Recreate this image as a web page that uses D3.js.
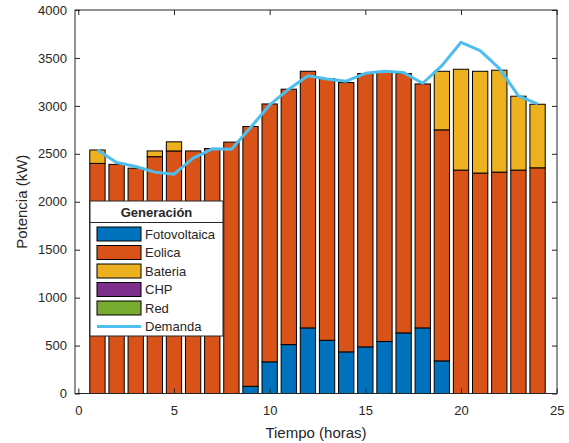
<!DOCTYPE html>
<html>
<head>
<meta charset="utf-8">
<script src="https://cdn.jsdelivr.net/npm/d3@7"></script>
<style>
  body { margin: 0; background: #fff; }
  svg text { font-family: "Liberation Sans", Arial, sans-serif; }
</style>
</head>
<body>
<div id="chart"></div>
<script>
// hourly data
const horas = d3.range(1, 25);
const fotovoltaica = [0, 0, 0, 0, 0, 0, 0, 0, 75, 330, 510, 684, 555, 434, 486, 542, 632, 684, 340, 0, 0, 0, 0, 0];
const eolica = [2400, 2390, 2350, 2470, 2530, 2530, 2555, 2622, 2710, 2690, 2664, 2677, 2730, 2809, 2851, 2812, 2705, 2545, 2410, 2330, 2299, 2309, 2330, 2354];
const bateria = [140, 0, 0, 60, 95, 0, 0, 0, 0, 0, 0, 0, 0, 0, 0, 0, 0, 0, 611, 1052, 1062, 1063, 771, 663];
const chp = new Array(24).fill(0);
const red = new Array(24).fill(0);
const demanda = [2540, 2410, 2368, 2309, 2288, 2455, 2552, 2548, 2774, 3010, 3174, 3315, 3281, 3257, 3340, 3361, 3347, 3236, 3420, 3663, 3576, 3392, 3104, 3021];

const series = ['Fotovoltaica', 'Eolica', 'Bateria', 'CHP', 'Red'];
const colors = ['#0072BD', '#D95319', '#EDB120', '#7E2F8E', '#77AC30'];
const demandColor = '#4DBEEE';
const xTicks = [0, 5, 10, 15, 20, 25];
const yTicks = d3.range(0, 4001, 500);

const W = 569, H = 443;
// box edges of the axes
const box = {left: 75, right: 557, top: 10, bottom: 393.5};

const svg = d3.select('#chart').append('svg')
  .attr('width', W)
  .attr('height', H);

const x = d3.scaleLinear().domain([0, 25]).range([78.3, 556.7]);
const y = d3.scaleLinear().domain([0, 4000]).range([box.bottom, box.top]);

// build rows for stacking
const rows = horas.map((h, i) => ({
  hora: h,
  Fotovoltaica: fotovoltaica[i],
  Eolica: eolica[i],
  Bateria: bateria[i],
  CHP: chp[i],
  Red: red[i]
}));
const stacked = d3.stack().keys(series)(rows);

const barW = x(0.8) - x(0);
stacked.forEach((layer, k) => {
  svg.append('g')
    .selectAll('rect')
    .data(layer.filter(d => d[1] - d[0] > 0))
    .enter().append('rect')
    .attr('x', d => x(d.data.hora) - barW / 2)
    .attr('y', d => y(d[1]))
    .attr('width', barW)
    .attr('height', d => y(d[0]) - y(d[1]))
    .attr('fill', colors[k])
    .attr('stroke', '#000')
    .attr('stroke-width', 1);
});

// demand line
svg.append('path')
  .datum(demanda)
  .attr('fill', 'none')
  .attr('stroke', demandColor)
  .attr('stroke-width', 3)
  .attr('stroke-linejoin', 'round')
  .attr('d', d3.line()
    .x((d, i) => x(horas[i]))
    .y(d => y(d)));

// axes (MATLAB style box with inner ticks)
const axisColor = '#262626';
svg.append('g')
  .attr('transform', 'translate(0,' + box.bottom + ')')
  .call(d3.axisBottom(x).tickValues(xTicks).tickSize(-5).tickSizeOuter(0).tickPadding(12));
svg.append('g')
  .attr('transform', 'translate(' + box.left + ',0)')
  .call(d3.axisLeft(y).tickValues(yTicks).tickSize(-5).tickSizeOuter(0).tickPadding(8).tickFormat(d3.format('d')));
svg.append('g')
  .attr('transform', 'translate(0,' + box.top + ')')
  .call(d3.axisTop(x).tickValues(xTicks).tickSize(-5).tickSizeOuter(0).tickFormat(''));
svg.append('g')
  .attr('transform', 'translate(' + box.right + ',0)')
  .call(d3.axisRight(y).tickValues(yTicks).tickSize(-5).tickSizeOuter(0).tickFormat(''));
svg.selectAll('.domain').remove();
svg.append('rect')
  .attr('x', box.left).attr('y', box.top)
  .attr('width', box.right - box.left).attr('height', box.bottom - box.top)
  .attr('fill', 'none').attr('stroke', axisColor).attr('stroke-width', 1);
svg.selectAll('.tick line').attr('stroke', axisColor);
svg.selectAll('.tick text').attr('fill', axisColor).style('font-size', '13px');

// axis labels
svg.append('text')
  .attr('x', (box.left + box.right) / 2)
  .attr('y', H - 5)
  .attr('text-anchor', 'middle')
  .attr('fill', axisColor)
  .style('font-size', '15px')
  .text('Tiempo (horas)');
svg.append('text')
  .attr('transform', 'rotate(-90)')
  .attr('x', -(box.top + box.bottom) / 2)
  .attr('y', 27)
  .attr('text-anchor', 'middle')
  .attr('fill', axisColor)
  .style('font-size', '15px')
  .text('Potencia (kW)');

// legend
const lg = svg.append('g').attr('transform', 'translate(90,201)');
lg.append('rect')
  .attr('width', 133).attr('height', 135)
  .attr('fill', '#fff').attr('stroke', axisColor).attr('stroke-width', 1);
lg.append('line')
  .attr('x1', 0).attr('x2', 133).attr('y1', 21.5).attr('y2', 21.5)
  .attr('stroke', axisColor);
lg.append('text')
  .attr('x', 66.5).attr('y', 16)
  .attr('text-anchor', 'middle')
  .style('font-size', '13px').style('font-weight', 'bold')
  .attr('fill', axisColor)
  .text('Generación');
const entries = series.concat(['Demanda']);
entries.forEach((name, i) => {
  const cy = 33 + i * 18.5;
  if (i < series.length) {
    lg.append('rect')
      .attr('x', 7).attr('y', cy - 7)
      .attr('width', 44).attr('height', 14)
      .attr('fill', colors[i]).attr('stroke', '#000').attr('stroke-width', 1);
  } else {
    lg.append('line')
      .attr('x1', 7).attr('x2', 51).attr('y1', cy).attr('y2', cy)
      .attr('stroke', demandColor).attr('stroke-width', 3);
  }
  lg.append('text')
    .attr('x', 55).attr('y', cy + 4.5)
    .style('font-size', '13px')
    .attr('fill', axisColor)
    .text(name);
});
</script>
</body>
</html>
